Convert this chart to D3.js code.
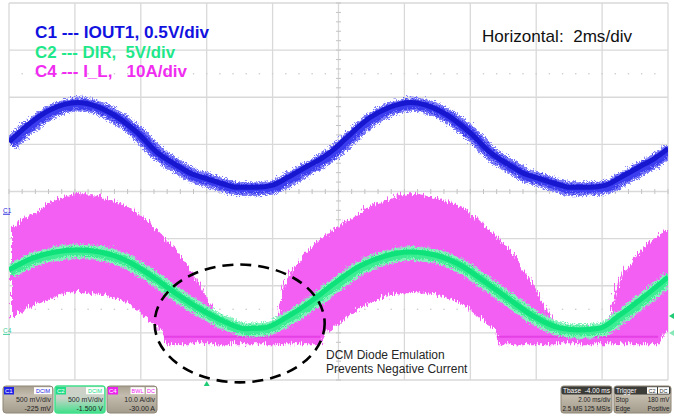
<!DOCTYPE html>
<html><head><meta charset="utf-8">
<script src="https://cdn.jsdelivr.net/npm/d3@7"></script>
<style>
html,body{margin:0;padding:0;background:#fff;}
svg{display:block;font-family:Arial,"Liberation Sans",sans-serif;}
</style></head><body>
<svg id="chart" width="674" height="417"></svg>
<script>
// ---------------- data (time in ms, 2 ms/div) ----------------
const c1Time  = [0.00,0.64,1.24,2.09,2.97,3.89,4.49,5.10,5.55,6.01,6.46,6.92,7.53,7.98,8.44,9.04,9.50,9.89,10.20,10.96,11.56,12.20,13.08,13.99,14.60,15.21,15.66,16.12,16.57,17.03,17.63,18.09,18.54,19.15,19.61,20.00];
const c1Volts = [0.75,0.95,1.09,1.17,1.08,0.85,0.64,0.50,0.41,0.36,0.31,0.27,0.27,0.29,0.37,0.49,0.58,0.68,0.78,1.01,1.12,1.17,1.08,0.85,0.64,0.50,0.41,0.36,0.31,0.27,0.27,0.29,0.37,0.49,0.58,0.68];

const c2Time  = [0.00,0.64,1.40,2.09,2.76,3.52,4.28,5.04,5.80,6.56,7.16,7.77,8.38,9.14,9.89,10.65,11.41,12.17,12.93,13.69,14.45,15.21,15.96,16.72,17.33,17.94,18.54,19.30,20.00];
const c2Volts = [6.67,7.83,8.58,8.79,8.58,7.73,6.14,4.23,2.53,1.15,0.45,0.55,1.57,3.27,5.29,7.09,8.15,8.58,8.26,7.20,5.39,3.48,1.68,0.51,0.30,0.51,1.89,3.91,5.92];

const c4Time  = [0.00,0.55,0.94,1.31,2.06,2.82,3.58,4.19,4.64,4.70,4.80,5.40,6.01,6.31,6.50,7.01,7.98,8.04,8.22,8.65,9.04,9.45,9.51,9.65,10.05,10.65,10.96,11.41,12.17,12.93,13.69,14.29,14.75,14.80,14.90,15.51,16.12,16.42,16.60,17.33,18.09,18.15,18.33,18.76,19.15,19.55,19.70,19.76,20.00];
const c4Upper = [22.9,25.3,27.1,28.6,30.1,29.1,27.1,23.9,20.8,20.3,19.7,14.4,7.0,3.4,1.6,1.5,1.6,2.1,9.1,14.8,18.2,20.8,21.1,21.8,23.7,26.3,27.6,28.8,29.9,29.0,27.1,23.9,20.7,20.3,19.7,14.4,7.0,3.4,1.6,1.5,1.6,2.1,9.1,14.8,18.2,20.8,21.6,21.8,22.5];
const c4Lower = [3.4,5.9,7.1,8.2,9.1,8.4,6.5,3.1,0.0,-2.0,-2.0,-2.0,-2.0,-2.0,-2.0,-2.0,-2.0,-2.0,-2.0,-2.0,-2.0,-2.0,0.0,0.8,3.1,5.9,7.0,8.2,9.1,8.4,6.5,3.1,0.0,-2.0,-2.0,-2.0,-2.0,-2.0,-2.0,-2.0,-2.0,-2.0,-2.0,-2.0,-2.0,-2.0,-2.0,0.0,1.0];

// channel settings (scale per div, offset in div)
const channelNames  = ["C1","C2","C4"];
const channelScale  = [0.5, 5, 10];
const channelOffset = [-0.45, -3, -3];
const legendLabels  = ["C1 --- IOUT1, 0.5V/div","C2 --- DIR,  5V/div","C4 --- I_L,   10A/div"];
const horizLabel    = "Horizontal:  2ms/div";
const noteLines     = ["DCM Diode Emulation","Prevents Negative Current"];
const triggerTime   = 6;          // ms
const triggerLevel  = 0.18;       // V on C2 probe (500 mV/div raw)
const ellipseCenter = [7.0, -2.8];// [ms, div]
const ellipseRadii  = [2.58, 1.25];// [ms, div]
const boxC = [
  {name:"C1", tags:["DCIM"], l1:"500 mV/div", l2:"-225 mV", col:"#2323e6"},
  {name:"C2", tags:["DCIM"], l1:"500 mV/div", l2:"-1.500 V", col:"#22dd88"},
  {name:"C4", tags:["BWL","DC"], l1:"10.0 A/div", l2:"-30.00 A", col:"#ee22ee"}
];

// ---------------- scales ----------------
const svg = d3.select("#chart");
const x = d3.scaleLinear().domain([0,20]).range([9,668]);
const y = d3.scaleLinear().domain([-4,4]).range([380,3]);
const yc = (ci, v) => y(v / channelScale[ci] + channelOffset[ci]);
const pre = s => s.replace(/ /g, "\u00a0");

const defs = svg.append("defs");
defs.append("clipPath").attr("id","plotClip").append("rect")
  .attr("x",x(0)).attr("y",y(4)).attr("width",x(20)-x(0)).attr("height",y(-4)-y(4));
function fuzz(id, fx, fy, sc, seed){
  const f = defs.append("filter").attr("id",id).attr("x","-5%").attr("y","-20%").attr("width","110%").attr("height","140%");
  f.append("feTurbulence").attr("type","turbulence").attr("baseFrequency",fx+" "+fy).attr("numOctaves",2).attr("seed",seed).attr("result","n");
  f.append("feDisplacementMap").attr("in","SourceGraphic").attr("in2","n").attr("scale",sc).attr("xChannelSelector","R").attr("yChannelSelector","G");
}
fuzz("fzBlue",0.9,0.9,7,2);
fuzz("fzGreen",0.9,0.9,6,5);
fuzz("fzPink",0.7,0.08,9,7);

// ---------------- grid ----------------
const grid = svg.append("g");
const gridCol = "#d9d9d9";
d3.range(0,11).forEach(i=>{
  grid.append("line").attr("x1",x(i*2)).attr("x2",x(i*2)).attr("y1",y(4)).attr("y2",y(-4))
    .attr("stroke",gridCol).attr("stroke-width",1.3);
});
d3.range(-4,5).forEach(j=>{
  grid.append("line").attr("x1",x(0)).attr("x2",x(20)).attr("y1",y(j)).attr("y2",y(j))
    .attr("stroke",gridCol).attr("stroke-width",1.3);
});
d3.range(0,20.001,0.4).forEach(t=>{
  grid.append("line").attr("x1",x(t)).attr("x2",x(t)).attr("y1",y(0)-2.5).attr("y2",y(0)+2.5).attr("stroke","#c4c4c4");
});
d3.range(-4,4.001,0.2).forEach(d=>{
  grid.append("line").attr("x1",x(10)-2.5).attr("x2",x(10)+2.5).attr("y1",y(d)).attr("y2",y(d)).attr("stroke","#c4c4c4");
});
[2.5,-2.5].forEach(d=>{
  d3.range(0.4,20,0.4).forEach(t=>{
    grid.append("rect").attr("x",x(t)-0.7).attr("y",y(d)-0.7).attr("width",1.4).attr("height",1.4).attr("fill","#cfcfcf");
  });
});

// ---------------- traces ----------------
const plot = svg.append("g").attr("clip-path","url(#plotClip)");
const c4Data = c4Time.map((t,i)=>({t, hi:c4Upper[i], lo:c4Lower[i]}));
const area = d3.area().x(d=>x(d.t)).y0(d=>yc(2,d.lo)).y1(d=>yc(2,d.hi)).curve(d3.curveMonotoneX);
plot.append("g").attr("filter","url(#fzPink)")
  .append("path").attr("d",area(c4Data)).attr("fill","#f35ef3");
plot.append("path").attr("d", d3.line().defined(d=>d.lo<0).x(d=>x(d.t)).y(d=>yc(2,-0.8))(c4Data))
  .attr("fill","none").attr("stroke","#dc2cdc").attr("stroke-width",2).attr("opacity",0.6);

const line = d3.line().curve(d3.curveMonotoneX);
const c2Pts = c2Time.map((t,i)=>[x(t), yc(1,c2Volts[i])]);
plot.append("path").attr("d",line(c2Pts)).attr("fill","none").attr("stroke","#86f2bd").attr("stroke-width",14).attr("filter","url(#fzGreen)");
plot.append("path").attr("d",line(c2Pts)).attr("fill","none").attr("stroke","#3ded93").attr("stroke-width",9).attr("filter","url(#fzGreen)");
plot.append("path").attr("d",line(c2Pts)).attr("fill","none").attr("stroke","#0fe27a").attr("stroke-width",5);

const c1Pts = c1Time.map((t,i)=>[x(t), yc(0,c1Volts[i])]);
plot.append("path").attr("d",line(c1Pts)).attr("fill","none").attr("stroke","#7a7af8").attr("stroke-width",14).attr("filter","url(#fzBlue)");
plot.append("path").attr("d",line(c1Pts)).attr("fill","none").attr("stroke","#3c3cf0").attr("stroke-width",9).attr("filter","url(#fzBlue)");
plot.append("path").attr("d",line(c1Pts)).attr("fill","none").attr("stroke","#1717cf").attr("stroke-width",5);

// ---------------- markers ----------------
const mk = svg.append("g").attr("font-size",6.5);
mk.append("text").attr("x",3).attr("y",yc(0,0)).text("C1").attr("fill","#2a2ae0");
mk.append("line").attr("x1",3).attr("x2",10).attr("y1",yc(0,0)+1.5).attr("y2",yc(0,0)+1.5).attr("stroke","#2a2ae0");
mk.append("text").attr("x",3).attr("y",yc(1,0)).text("C4").attr("fill","#3fcf9a");
mk.append("line").attr("x1",3).attr("x2",10).attr("y1",yc(1,0)+1.5).attr("y2",yc(1,0)+1.5).attr("stroke","#3fcf9a");
const tl = y(triggerLevel/0.5 + channelOffset[1]);
mk.append("path").attr("d",`M${x(20)+1},${tl} l5,-3 v6 z`).attr("fill","#22cc77");
mk.append("path").attr("d",`M${x(20)+1},${yc(1,0)} l5,-3 v6 z`).attr("fill","#88e8b8");
mk.append("path").attr("d",`M${x(triggerTime)},${y(-4)+1} l-3,5 h6 z`).attr("fill","#22cc77");

// ---------------- ellipse annotation ----------------
svg.append("ellipse")
  .attr("cx",x(ellipseCenter[0])).attr("cy",y(ellipseCenter[1]))
  .attr("rx",x(ellipseRadii[0])-x(0)).attr("ry",y(0)-y(ellipseRadii[1]))
  .attr("fill","none").attr("stroke","#000").attr("stroke-width",2.6).attr("stroke-dasharray","11 7");
const note = svg.append("g").attr("font-size",12).attr("fill","#262626");
noteLines.forEach((s,i)=>note.append("text").attr("x",326).attr("y",359+i*13.5).text(s));

// ---------------- legend text ----------------
const leg = svg.append("g").attr("font-size",16).attr("font-weight","bold");
const legCols = ["#1212e0","#1fe88a","#f02cf0"];
const legWidths = [174, 140, 152];
legendLabels.forEach((s,i)=>leg.append("text").attr("x",35).attr("y",38+i*19.7).attr("fill",legCols[i])
  .attr("textLength",legWidths[i]).attr("lengthAdjust","spacingAndGlyphs").text(pre(s)));
svg.append("text").attr("x",482).attr("y",42).attr("font-size",17).attr("fill","#111")
  .attr("textLength",150).attr("lengthAdjust","spacingAndGlyphs").text(pre(horizLabel));

// ---------------- status boxes ----------------
const gr1 = defs.append("linearGradient").attr("id","gBeige").attr("x1",0).attr("x2",0).attr("y1",0).attr("y2",1);
gr1.append("stop").attr("offset","0").attr("stop-color","#a8a090");
gr1.append("stop").attr("offset","0.35").attr("stop-color","#c4bdaf");
gr1.append("stop").attr("offset","1").attr("stop-color","#a39b8b");
const gr2 = defs.append("linearGradient").attr("id","gGreen").attr("x1",0).attr("x2",0).attr("y1",0).attr("y2",1);
gr2.append("stop").attr("offset","0").attr("stop-color","#cfcfc8");
gr2.append("stop").attr("offset","0.45").attr("stop-color","#c8d4c8");
gr2.append("stop").attr("offset","1").attr("stop-color","#3fe08a");

const sb = svg.append("g").attr("font-size",7);
boxC.forEach((b,i)=>{
  const bx = 3 + i*52, by = 386;
  const g = sb.append("g").attr("transform",`translate(${bx},${by})`);
  g.append("rect").attr("width",50).attr("height",27).attr("rx",3)
    .attr("fill", i===1 ? "url(#gGreen)" : "url(#gBeige)")
    .attr("stroke", i===1 ? "#3fe08a" : "#8e8676").attr("stroke-width", i===1?1.5:1);
  g.append("rect").attr("x",1).attr("y",1).attr("width",10).attr("height",7.5).attr("fill",b.col);
  g.append("text").attr("x",2).attr("y",7.3).attr("font-size",6).attr("fill","#fff").text(b.name);
  let tx = 49;
  b.tags.slice().reverse().forEach(tag=>{
    const w = tag.length*4 + 2;
    tx -= w;
    g.append("rect").attr("x",tx).attr("y",1.2).attr("width",w).attr("height",7).attr("fill","#fff");
    g.append("text").attr("x",tx+w/2).attr("y",7).attr("text-anchor","middle").attr("font-size",5.5).attr("fill",b.col).text(tag);
    tx -= 1.5;
  });
  g.append("text").attr("x",48).attr("y",16).attr("text-anchor","end").attr("fill","#2a2a2a").text(b.l1);
  g.append("text").attr("x",48).attr("y",25).attr("text-anchor","end").attr("fill","#1e1e1e").text(b.l2);
});
function infoBox(bx, w, head, headR, rows){
  const g = sb.append("g").attr("transform",`translate(${bx},386)`);
  g.append("rect").attr("width",w).attr("height",27).attr("rx",2.5).attr("fill","url(#gBeige)").attr("stroke","#8e8676");
  g.append("rect").attr("x",0.5).attr("y",0.5).attr("width",w-1).attr("height",8).attr("rx",2).attr("fill","#3b3b38");
  g.append("text").attr("x",2).attr("y",7).attr("fill","#fff").attr("font-size",6.5).text(head);
  headR(g);
  rows.forEach((r,k)=>{
    if(r[0]) g.append("text").attr("x",1.5).attr("y",16+k*9).attr("font-size",6.3).attr("fill","#222").text(r[0]);
    g.append("text").attr("x",w-1.5).attr("y",16+k*9).attr("font-size",6.3).attr("text-anchor","end").attr("fill","#222").text(r[1]);
  });
}
infoBox(561, 51, "Tbase", g=>g.append("text").attr("x",49).attr("y",7).attr("text-anchor","end").attr("fill","#fff").attr("font-size",6.5).text("-4.00 ms"),
  [["","2.00 ms/div"],["2.5 MS","125 MS/s"]]);
infoBox(614, 57, "Trigger", g=>{
  g.append("rect").attr("x",33).attr("y",1.2).attr("width",10).attr("height",6.5).attr("fill","#fff");
  g.append("text").attr("x",38).attr("y",6.6).attr("text-anchor","middle").attr("font-size",5.5).attr("fill","#333").text("C2");
  g.append("rect").attr("x",44).attr("y",1.2).attr("width",11).attr("height",6.5).attr("fill","#fff");
  g.append("text").attr("x",49.5).attr("y",6.6).attr("text-anchor","middle").attr("font-size",5.5).attr("fill","#333").text("DC");
}, [["Stop","180 mV"],["Edge","Positive"]]);
</script>
</body></html>
